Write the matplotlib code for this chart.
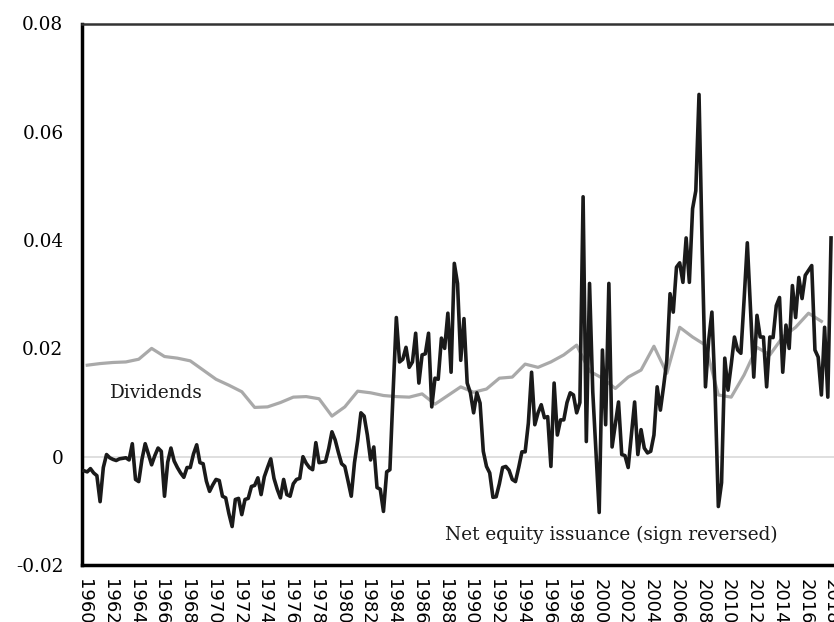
import matplotlib
matplotlib.use("Agg")
import matplotlib.pyplot as plt

# net equity issuance (sign reversed), quarterly from 1960Q1
issuance = [
    -0.0026, -0.0028, -0.0022, -0.0030, -0.0035, -0.0083, -0.0020, 0.0004,
    -0.0002, -0.0005, -0.0007, -0.0004, -0.0003, -0.0002, -0.0006, 0.0024,
    -0.0042, -0.0046, -0.0005, 0.0024, 0.0005, -0.0015, 0.0002, 0.0016,
    0.0010, -0.0073, -0.0010, 0.0016, -0.0008, -0.0020, -0.0030, -0.0038,
    -0.0020, -0.0020, 0.0005, 0.0022, -0.0011, -0.0013, -0.0045, -0.0064,
    -0.0052, -0.0042, -0.0044, -0.0073, -0.0076, -0.0105, -0.0129, -0.0079,
    -0.0077, -0.0107, -0.0079, -0.0077, -0.0055, -0.0053, -0.0039, -0.0070,
    -0.0037, -0.0020, -0.0004, -0.0040, -0.0060, -0.0076, -0.0042, -0.0070,
    -0.0073, -0.0050, -0.0042, -0.0040, 0.0000, -0.0012, -0.0020, -0.0024,
    0.0026, -0.0011, -0.0010, -0.0009, 0.0015, 0.0046, 0.0031, 0.0008,
    -0.0013, -0.0018, -0.0045, -0.0073, -0.0011, 0.0030, 0.0081, 0.0075,
    0.0040, -0.0006, 0.0018, -0.0057, -0.0060, -0.0101, -0.0028, -0.0024,
    0.0120, 0.0257, 0.0175, 0.0180, 0.0202, 0.0165, 0.0175, 0.0228,
    0.0136, 0.0188, 0.0190, 0.0228, 0.0092, 0.0145, 0.0143, 0.0219,
    0.0200, 0.0265, 0.0156, 0.0357, 0.0320, 0.0178, 0.0255, 0.0136,
    0.0118, 0.0081, 0.0118, 0.0099, 0.0010, -0.0018, -0.0030, -0.0075,
    -0.0074, -0.0050, -0.0020, -0.0018, -0.0025, -0.0042, -0.0046, -0.0020,
    0.0009, 0.0009, 0.0062, 0.0156, 0.0059, 0.0081, 0.0096, 0.0072,
    0.0074, -0.0018, 0.0136, 0.0040, 0.0068, 0.0068, 0.0100, 0.0118,
    0.0114, 0.0081, 0.0100, 0.0480, 0.0028, 0.0320, 0.0120, 0.0010,
    -0.0103, 0.0197, 0.0059, 0.0320, 0.0018, 0.0060, 0.0101, 0.0004,
    0.0002, -0.0020, 0.0040, 0.0101, 0.0004, 0.0050, 0.0016, 0.0007,
    0.0010, 0.0040, 0.0129, 0.0086, 0.0130, 0.0178, 0.0301, 0.0267,
    0.0350, 0.0358, 0.0322, 0.0404, 0.0322, 0.0458, 0.0491, 0.0669,
    0.0380, 0.0129, 0.0215, 0.0267, 0.0118, -0.0092, -0.0048, 0.0182,
    0.0123, 0.0170, 0.0221, 0.0197, 0.0191, 0.0290, 0.0395, 0.0270,
    0.0147, 0.0261, 0.0221, 0.0221, 0.0129, 0.0221, 0.0220, 0.0279,
    0.0294, 0.0156, 0.0243, 0.0200, 0.0316, 0.0257, 0.0331, 0.0292,
    0.0335, 0.0344, 0.0353, 0.0197, 0.0184, 0.0114, 0.0239, 0.0110,
    0.0404,
]
issuance_x = [1960 + i / 4 for i in range(len(issuance))]

# dividends, annual
div_years = list(range(1960, 2018))
dividends = [
    0.0169, 0.0172, 0.0174, 0.0175, 0.0180, 0.0200, 0.0185, 0.0182, 0.0177, 0.0160,
    0.0143, 0.0132, 0.0120, 0.0091, 0.0092, 0.0100, 0.0110, 0.0111, 0.0107, 0.0075,
    0.0092, 0.0121, 0.0118, 0.0113, 0.0111, 0.0110, 0.0116, 0.0097, 0.0113, 0.0129,
    0.0119, 0.0125, 0.0145, 0.0147, 0.0171, 0.0165, 0.0175, 0.0188, 0.0206, 0.0158,
    0.0145, 0.0126, 0.0147, 0.0160, 0.0204, 0.0154, 0.0239, 0.0221, 0.0206, 0.0114,
    0.0110, 0.0151, 0.0202, 0.0188, 0.0221, 0.0239, 0.0265, 0.0250,
]
div_x = [y + 0.25 for y in div_years]

year_ticks = list(range(1960, 2019, 2))
y_ticks = [-0.02, 0, 0.02, 0.04, 0.06, 0.08]
y_labels = ["-0.02", "0", "0.02", "0.04", "0.06", "0.08"]

fig = plt.figure(figsize=(8.34, 6.22), dpi=100)
ax = fig.add_axes([81.5 / 834, 57 / 622, (860 - 81.5) / 834, 541.5 / 622])

ax.axhline(0, color="#d9d9d9", lw=1.2, zorder=1)
ax.plot(div_x, dividends, color="#a9a9a9", lw=2.3, solid_joinstyle="round", zorder=2)
ax.plot(issuance_x, issuance, color="#1a1a1a", lw=2.6, solid_joinstyle="round", zorder=3)

ax.text(1962.0, 0.0109, "Dividends", family="DejaVu Serif", fontsize=13.3, color="#1a1a1a")
ax.text(1988.05, -0.0153, "Net equity issuance (sign reversed)", family="DejaVu Serif",
        fontsize=13.3, color="#1a1a1a")

ax.set_xlim(1960 + (81.5 - 84) / 12.88, 1960 + (860 - 84) / 12.88)
ax.set_ylim(-0.02, 0.08)

ax.set_yticks(y_ticks)
ax.set_yticklabels(y_labels, family="DejaVu Serif", fontsize=13.3)
ax.set_xticks(year_ticks)
ax.set_xticklabels([str(y) for y in year_ticks], rotation=270, fontsize=13, family="DejaVu Sans")
ax.tick_params(axis="y", length=0, pad=13)
ax.tick_params(axis="x", length=0, pad=10)

for side in ["left", "bottom"]:
    ax.spines[side].set_linewidth(2.5)
    ax.spines[side].set_color("black")
ax.spines["top"].set_linewidth(1.8)
ax.spines["top"].set_color("#333333")
ax.spines["right"].set_visible(False)

fig.savefig("out.png", dpi=100)
